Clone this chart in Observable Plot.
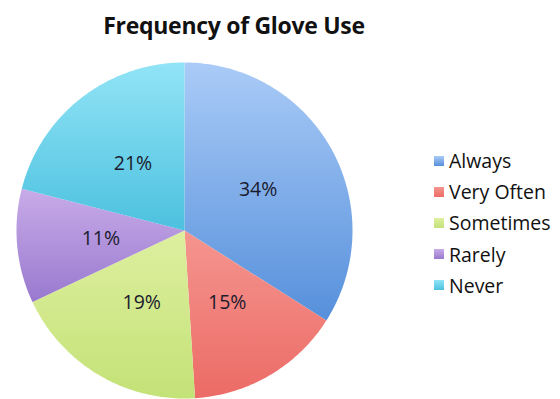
<!DOCTYPE html>
<html>
<head>
<meta charset="utf-8">
<script src="https://cdn.jsdelivr.net/npm/d3@7"></script>
<script src="https://cdn.jsdelivr.net/npm/@observablehq/plot@0.6"></script>
<style>
  body { margin: 0; background: #fff; font-family: "Open Sans", Lato, sans-serif; }
  #wrap { position: relative; width: 560px; height: 399px; overflow: hidden; }
  #title { position: absolute; left: 0; top: 9px; width: 468px; text-align: center;
           font-weight: bold; font-size: 23px; color: #111; letter-spacing: -0.3px; }
  #chart { position: absolute; left: 0; top: 50px; }
  #legend { position: absolute; left: 434px; top: 145px; }
  .item { display: flex; align-items: center; height: 31.2px; font-size: 19.5px; color: #111; }
  .sw { width: 10px; height: 10px; margin-right: 5px; }
</style>
</head>
<body>
<div id="wrap">
  <div id="title">Frequency of Glove Use</div>
  <div id="chart"></div>
  <div id="legend"></div>
</div>
<script>
// Survey answers, clockwise from twelve o'clock
const categories = ["Always", "Very Often", "Sometimes", "Rarely", "Never"];
const shares = [34, 15, 19, 11, 21];
// light (top) and dark (bottom) stops of each slice's gradient
const lightColors = ["#aacbf7", "#f5958f", "#deef9f", "#c8abe8", "#92e4f6"];
const darkColors = ["#5690db", "#ec6b66", "#c3e277", "#9879cf", "#4cc1df"];

const total = d3.sum(shares);
const starts = d3.cumsum([0, ...shares]);

// Outline points of each slice in unit-circle coordinates
const outline = [];
categories.forEach((c, i) => {
  const a0 = (starts[i] / total) * 2 * Math.PI;
  const a1 = (starts[i + 1] / total) * 2 * Math.PI;
  outline.push({key: c, i, x: 0, y: 0});
  const n = Math.max(8, Math.ceil((a1 - a0) * 60));
  for (let k = 0; k <= n; ++k) {
    const a = a0 + ((a1 - a0) * k) / n;
    outline.push({key: c, i, x: Math.sin(a), y: Math.cos(a)});
  }
});

// Percentage labels at half radius along each slice's bisector
const labels = categories.map((c, i) => {
  const a = ((starts[i] + shares[i] / 2) / total) * 2 * Math.PI;
  return {key: c, value: shares[i], x: 0.5 * Math.sin(a), y: 0.5 * Math.cos(a)};
});

const cx = 184, cy = 180, r = 168;
const plot = Plot.plot({
  width: 560,
  height: 349,
  margin: 0,
  x: {domain: [-1, 1], range: [cx - r, cx + r], axis: null},
  y: {domain: [-1, 1], range: [cy + r, cy - r], axis: null},
  marks: [
    Plot.line(outline, {
      x: "x", y: "y", z: "key",
      fill: (d) => `url(#slice-${d.i})`,
      stroke: "none",
      curve: "linear-closed"
    }),
    Plot.text(labels, {
      x: "x", y: "y",
      text: (d) => `${d.value}%`,
      fontSize: 19.5,
      fill: "#1b1b2e",
      fontFamily: "Open Sans, sans-serif"
    })
  ]
});

// Vertical gradient per slice
const defs = d3.select(plot).insert("defs", ":first-child");
categories.forEach((c, i) => {
  const g = defs.append("linearGradient")
    .attr("id", `slice-${i}`)
    .attr("x1", 0).attr("y1", 0).attr("x2", 0).attr("y2", 1);
  g.append("stop").attr("offset", "0%").attr("stop-color", lightColors[i]);
  g.append("stop").attr("offset", "100%").attr("stop-color", darkColors[i]);
});

document.getElementById("chart").appendChild(plot);

const legend = d3.select("#legend");
categories.forEach((c, i) => {
  const item = legend.append("div").attr("class", "item");
  item.append("div").attr("class", "sw")
    .style("background", `linear-gradient(${lightColors[i]}, ${darkColors[i]})`);
  item.append("span").text(c);
});
</script>
</body>
</html>
